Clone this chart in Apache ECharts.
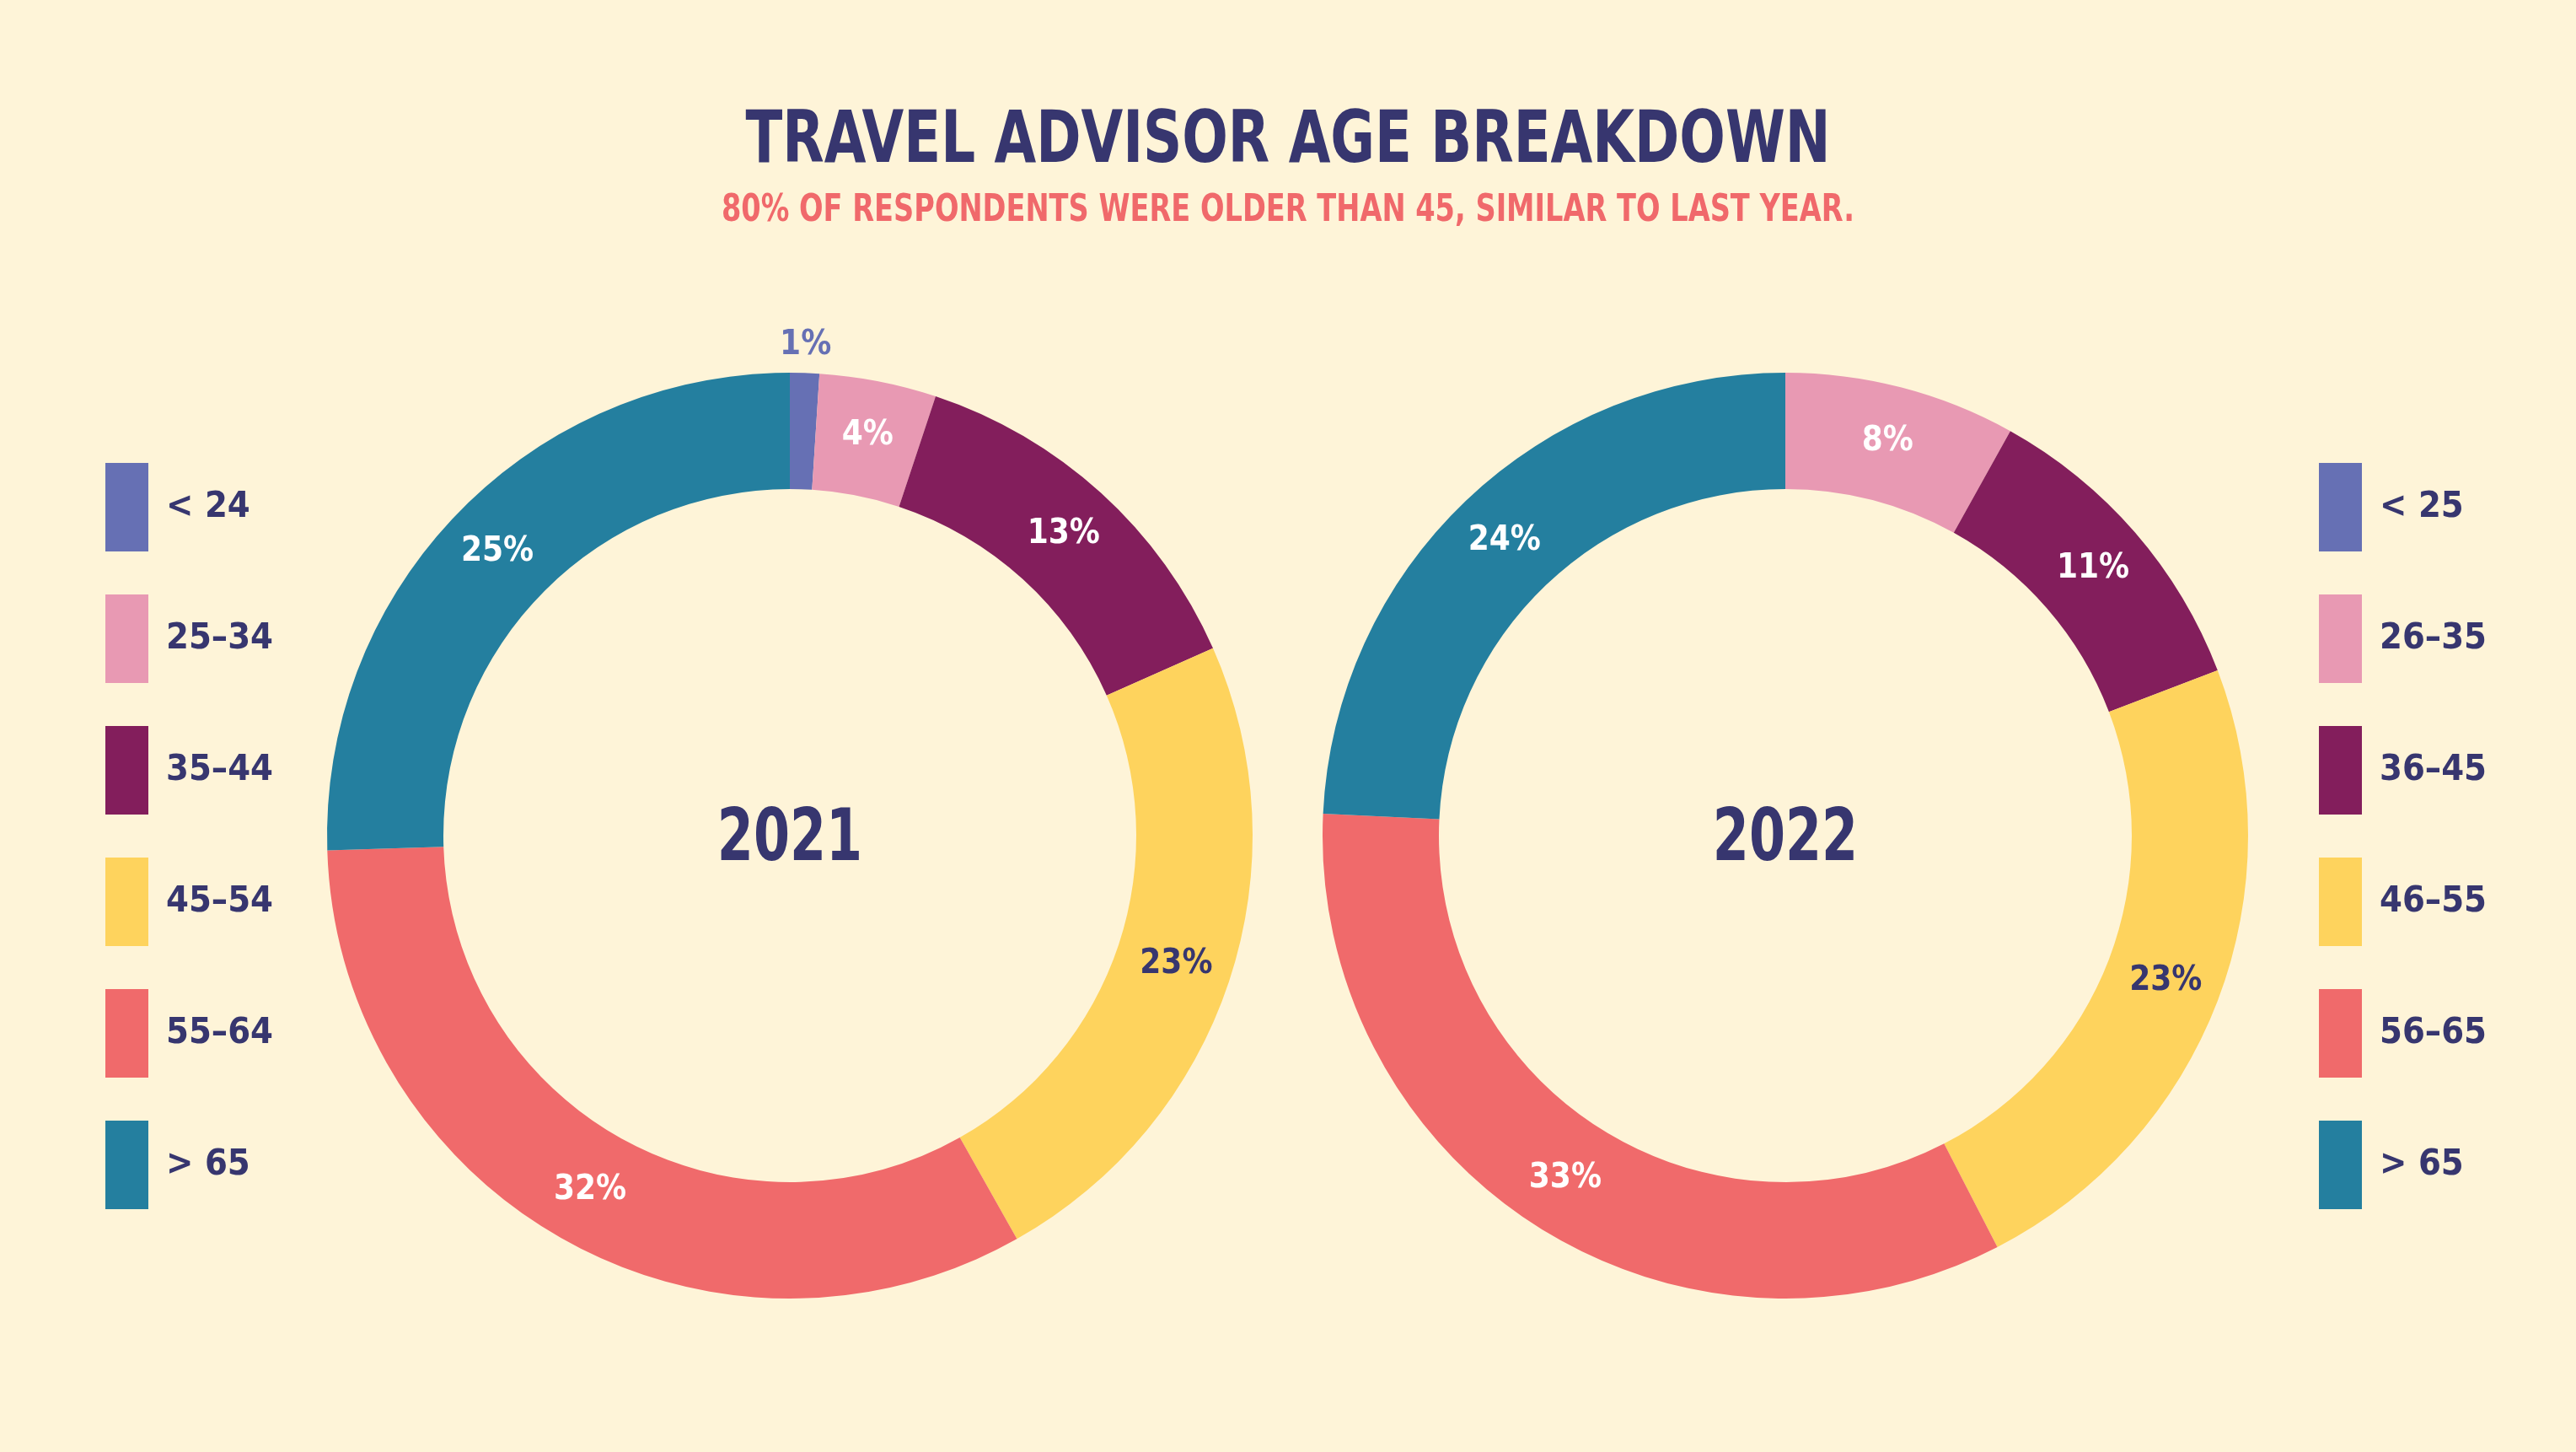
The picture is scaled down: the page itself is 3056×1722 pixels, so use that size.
<!DOCTYPE html>
<html><head><meta charset="utf-8">
<script src="https://cdn.jsdelivr.net/npm/echarts@6/dist/echarts.min.js"></script>
<style>html,body{margin:0;padding:0;background:#fef4d8}#c{width:3056px;height:1722px}</style>
</head><body><div id="c"></div>
<script>
const titleText = 'TRAVEL ADVISOR AGE BREAKDOWN';
const subtitleText = '80% OF RESPONDENTS WERE OLDER THAN 45, SIMILAR TO LAST YEAR.';
const years = ['2021', '2022'];
const groups2021 = ['< 24', '25–34', '35–44', '45–54', '55–64', '> 65'];
const values2021 = [1, 4, 13, 23, 32, 25];
const groups2022 = ['< 25', '26–35', '36–45', '46–55', '56–65', '> 65'];
const values2022 = [0, 8, 11, 23, 33, 24];
const colors = ['#6670b4', '#e899b3', '#831e5c', '#fed35d', '#f06a6b', '#247f9f'];
const labelColors = ['#6670b4', '#ffffff', '#ffffff', '#37366f', '#ffffff', '#ffffff'];

const NAVY = '#37366f';
const FONT = "'Liberation Sans Narrow', 'DejaVu Sans Condensed', 'Liberation Sans', sans-serif";
const centers = [[937, 991], [2118, 991]];
const R_IN = 411, R_OUT = 549, R_GHOST = 609;
const SMALL = 2;

function mainData(names, vals) {
  return names.map((n, i) => ({
    name: n, value: vals[i],
    itemStyle: { color: colors[i] },
    label: { show: vals[i] >= SMALL, color: labelColors[i] }
  }));
}
function ghostData(names, vals) {
  return names.map((n, i) => ({
    name: n, value: vals[i],
    itemStyle: { color: 'rgba(0,0,0,0)' },
    label: { show: vals[i] > 0 && vals[i] < SMALL, color: labelColors[i] }
  }));
}
const labelStyle = {
  position: 'inside', formatter: '{c}%',
  fontFamily: FONT, fontWeight: 'bold', fontSize: 40
};
function pieSeries(names, vals, idx) {
  return [{
    type: 'pie', name: years[idx], center: centers[idx], radius: [R_IN, R_OUT],
    startAngle: 90, clockwise: true, avoidLabelOverlap: false,
    label: labelStyle, labelLine: { show: false },
    emphasis: { disabled: true }, data: mainData(names, vals)
  }, {
    type: 'pie', name: years[idx] + ' small', center: centers[idx], radius: [R_OUT, R_GHOST],
    startAngle: 90, clockwise: true, avoidLabelOverlap: false, silent: true,
    legendHoverLink: false,
    label: labelStyle, labelLine: { show: false },
    emphasis: { disabled: true }, data: ghostData(names, vals)
  }];
}
const legendText = {
  color: NAVY, fontFamily: FONT, fontWeight: 'bold', fontSize: 43,
  padding: [0, 0, 0, 16]
};
function txt(x, y, text, size, fill, sx) {
  return { type: 'text', x: x, y: y, scaleX: sx, originX: 0, originY: 0,
    style: { text: text, fill: fill, font: "bold " + size + "px " + FONT, textAlign: 'center', textVerticalAlign: 'middle' } };
}
const option = {
  backgroundColor: '#fef4d8',
  animation: false,
  legend: [{
    data: groups2021, orient: 'vertical', left: 125, top: 549, padding: 0,
    icon: 'rect', itemWidth: 51, itemHeight: 105, itemGap: 51,
    textStyle: legendText, selectedMode: false
  }, {
    data: groups2022, orient: 'vertical', left: 2751, top: 549, padding: 0,
    icon: 'rect', itemWidth: 51, itemHeight: 105, itemGap: 51,
    textStyle: legendText, selectedMode: false
  }],
  graphic: [
    txt(1528, 170, titleText, 86, NAVY, 0.83),
    txt(1528, 250, subtitleText, 45, '#f0696b', 0.83),
    txt(centers[0][0], 998, years[0], 86, NAVY, 0.8),
    txt(centers[1][0], 998, years[1], 86, NAVY, 0.8)
  ],
  series: [].concat(pieSeries(groups2021, values2021, 0), pieSeries(groups2022, values2022, 1))
};
const chart = echarts.init(document.getElementById('c'), null, { renderer: 'canvas' });
chart.setOption(option);
</script></body></html>
